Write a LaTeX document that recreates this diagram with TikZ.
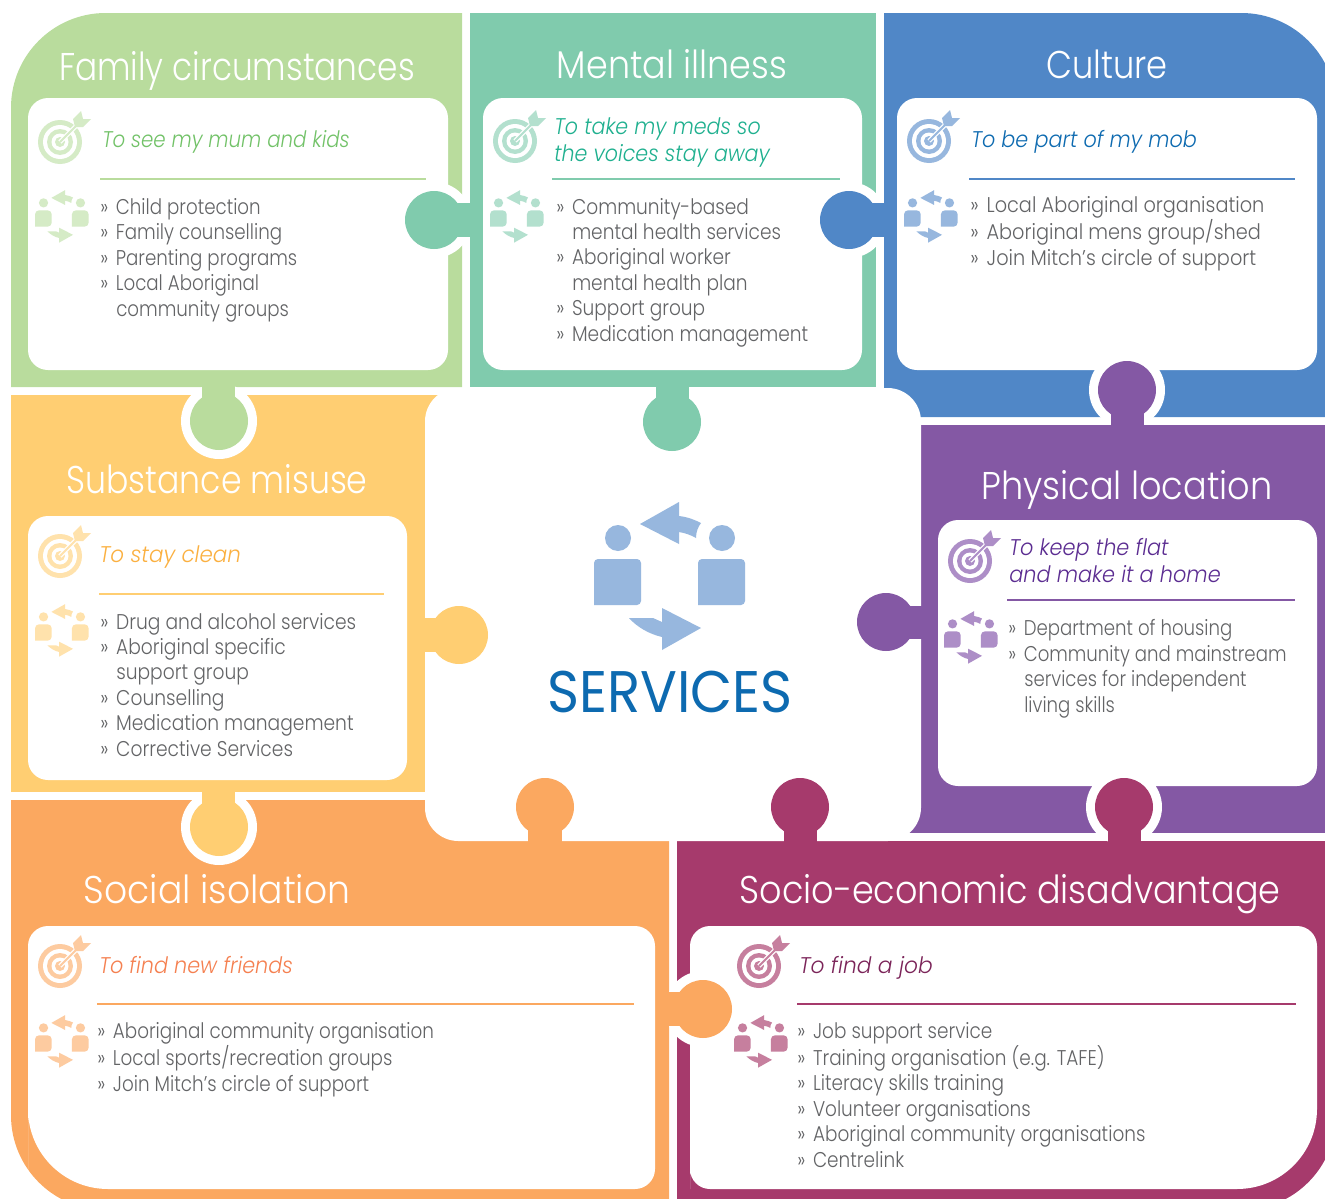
\documentclass[tikz,border=0pt]{standalone}
\usepackage{fontspec}
\setmainfont{Poppins}[UprightFont=* Light, ItalicFont=* Light Italic]
\newfontfamily\servicesfont{Poppins}[FakeStretch=.93]
\usepackage{xcolor}
\definecolor{leaf}{HTML}{B9DC9D}
\definecolor{sea}{HTML}{80CBAD}
\definecolor{sky}{HTML}{5087C7}
\definecolor{sun}{HTML}{FFCE72}
\definecolor{grape}{HTML}{8458A4}
\definecolor{peach}{HTML}{FBA860}
\definecolor{plum}{HTML}{A63A6C}
\definecolor{leaftint}{HTML}{D5EBC6}
\definecolor{seatint}{HTML}{B3E0CE}
\definecolor{skytint}{HTML}{97B7DE}
\definecolor{suntint}{HTML}{FFE2AC}
\definecolor{grapetint}{HTML}{AD8EC7}
\definecolor{peachtint}{HTML}{FDCBA0}
\definecolor{plumtint}{HTML}{C67F9E}
\definecolor{leafgoal}{HTML}{72C268}
\definecolor{seagoal}{HTML}{1FB08F}
\definecolor{skygoal}{HTML}{0D6AB0}
\definecolor{sungoal}{HTML}{FBB040}
\definecolor{grapegoal}{HTML}{5B2C91}
\definecolor{peachgoal}{HTML}{F58050}
\definecolor{plumgoal}{HTML}{7B2459}
\definecolor{listgray}{HTML}{636466}
\newcommand{\contline}{\hspace*{12pt}}
\newcommand{\listmark}{»\hspace{2pt} }
\tikzset{
  heading/.style={anchor=base, inner sep=0pt, white, font=\fontsize{29}{32}\selectfont\addfontfeatures{FakeStretch=#1}},
  goaltext/.style={anchor=base west, inner sep=0pt, align=left, font=\fontsize{17}{20.2}\selectfont\itshape\addfontfeatures{FakeStretch=#1}},
  listtext/.style={anchor=base west, inner sep=0pt, align=left, listgray, font=\fontsize{16}{19.05}\selectfont\addfontfeatures{FakeStretch=#1}},
  card/.style={fill=white, rounded corners=15pt},
  rule/.style={line width=1.6pt},
  pics/targeticon/.style={code={
    \fill [#1] (0,0) circle [radius=22];
    \fill [white] (0,0) circle [radius=17];
    \fill [#1] (0,0) circle [radius=13];
    \fill [white] (0,0) circle [radius=8.5];
    \fill [#1] (0,0) circle [radius=5];
    \draw [white, line width=3.4pt] (0,0) -- (18,-18);
    \draw [#1, line width=1.5pt] (0,0) -- (18,-18);
    \fill [#1] (13,-23) -- (21,-31) -- (23,-23) -- (31,-23) -- (23,-15) -- (15,-15) -- cycle;
  }},
  pics/cycleicon/.style={code={
    \fill [#1] (-52,-37) circle [radius=13];
    \fill [#1] (52,-37) circle [radius=13];
    \fill [#1, rounded corners=3pt] (-76,30) -- (-76,-16) -- (-29,-16) -- (-29,30) [sharp corners] -- cycle;
    \fill [#1, rounded corners=3pt] (28,30) -- (28,-16) -- (75,-16) -- (75,30) [sharp corners] -- cycle;
    \fill [#1] (-30,-51) -- (9,-73) -- (9,-59) .. controls (18,-58) and (25,-55) .. (31,-52) .. controls (28,-48) and (26,-43) .. (26,-37) .. controls (21,-40) and (15,-42) .. (9,-43) -- (9,-31) -- cycle;
    \fill [#1] (31,53) -- (-8,33) -- (-8,47) -- (-17,43) -- (-41,43) .. controls (-33,52) and (-21,59) .. (-8,62) -- (-8,75) -- cycle;
  }},
}

\begin{document}
\begin{tikzpicture}[x=0.75pt, y=-0.75pt]
        \useasboundingbox (0,0) rectangle (1325,1199);
        % panels
        \fill [leaf] (11,387) [rounded corners=71pt] -- (11,13) [sharp corners] -- (462,13) -- (462,387) -- cycle;
        \fill [sea] (470,13) rectangle (876,387);
        \fill [sky] (884,13) [rounded corners=71pt] -- (1336,13) [sharp corners] -- (1336,417) -- (884,417) -- cycle;
        \fill [sun] (11,395) rectangle (455,792);
        \fill [grape] (890,425) rectangle (1336,833);
        \fill [peach] (11,800) [rounded corners=71pt] -- (11,1210) [sharp corners] -- (669,1210) -- (669,800) -- cycle;
        \fill [plum] (677,841) -- (1336,841) [rounded corners=71pt] -- (1336,1210) [sharp corners] -- (677,1210) -- cycle;
        % middle piece
        \fill [white, rounded corners=25pt] (425,388) rectangle (921,841);
        % cards
        \fill [card] (28,98) rectangle (448,370);
        \fill [card] (483,98) rectangle (862,370);
        \fill [card] (897,98) rectangle (1317,370);
        \fill [card] (28,516) rectangle (407,780);
        \fill [card] (938,520) rectangle (1317,786);
        \fill [white] (28,1189) [rounded corners=15pt] -- (28,926) -- (655,926) -- (655,1189) [rounded corners=60pt] -- (28,1189) [sharp corners] -- cycle;
        \fill [white] (690,1189) [rounded corners=15pt] -- (690,926) -- (1317,926) [rounded corners=60pt] -- (1317,1189) [rounded corners=15pt] -- (690,1189) [sharp corners] -- cycle;
        % knobs with a white rim
        \fill [white] (219,421) circle [radius=38];
        \fill [leaf] (202,380) rectangle (235,410);
        \fill [leaf] (219,421) circle [radius=29];
        \fill [white] (434,220) circle [radius=38];
        \fill [sea] (445,203) rectangle (477,237);
        \fill [sea] (434,220) circle [radius=29];
        \fill [white] (849,220) circle [radius=38];
        \fill [sky] (860,203) rectangle (891,237);
        \fill [sky] (849,220) circle [radius=29];
        \fill [white] (1127,390) circle [radius=38];
        \fill [grape] (1111,400) rectangle (1144,432);
        \fill [grape] (1127,390) circle [radius=29];
        \fill [white] (219,827) circle [radius=38];
        \fill [sun] (202,785) rectangle (235,815);
        \fill [sun] (219,827) circle [radius=29];
        \fill [white] (1124,807) circle [radius=38];
        \fill [plum] (1108,820) rectangle (1141,848);
        \fill [plum] (1124,807) circle [radius=29];
        \fill [white] (703,1009) circle [radius=38];
        \fill [peach] (662,992) rectangle (690,1026);
        \fill [peach] (703,1009) circle [radius=29];
        % knobs into the middle piece
        \fill [sea] (656,387) rectangle (689,410);
        \fill [sea] (672,422) circle [radius=29];
        \fill [sun] (425,618) rectangle (445,652);
        \fill [sun] (459,635) circle [radius=29];
        \fill [grape] (900,606) rectangle (922,639);
        \fill [grape] (886,622) circle [radius=29];
        \fill [peach] (528,820) rectangle (562,842);
        \fill [peach] (545,807) circle [radius=29];
        \fill [plum] (784,820) rectangle (817,842);
        \fill [plum] (800,807) circle [radius=29];
        % rules
        \draw [rule, leaf] (100,179) -- (426,179);
        \draw [rule, sea] (552,179) -- (840,179);
        \draw [rule, sky] (969,179) -- (1295,179);
        \draw [rule, sun] (99,594) -- (384,594);
        \draw [rule, grape] (1007,600) -- (1295,600);
        \draw [rule, peach] (97,1004) -- (634,1004);
        \draw [rule, plum] (797,1004) -- (1296,1004);
        % icons
        \pic at (60,142) {targeticon=leaftint};
        \pic at (515,141) {targeticon=seatint};
        \pic at (929,141) {targeticon=skytint};
        \pic at (60,556) {targeticon=suntint};
        \pic at (970,561) {targeticon=grapetint};
        \pic at (60,966) {targeticon=peachtint};
        \pic at (759,966) {targeticon=plumtint};
        \pic [scale=0.355] at (62,216) {cycleicon=leaftint};
        \pic [scale=0.355] at (517,216) {cycleicon=seatint};
        \pic [scale=0.355] at (931,216) {cycleicon=skytint};
        \pic [scale=0.355] at (62,630) {cycleicon=suntint};
        \pic [scale=0.355] at (971,637) {cycleicon=grapetint};
        \pic [scale=0.355] at (62,1041) {cycleicon=peachtint};
        \pic [scale=0.355] at (761,1041) {cycleicon=plumtint};
        \pic at (670,575) {cycleicon=skytint};
        % headings
        \node (family) [heading=.847] at (237,80) {Family circumstances};
        \node (mental) [heading=.903] at (672,78) {Mental illness};
        \node (culture) [heading=.87] at (1107,78) {Culture};
        \node (substance) [heading=.857] at (217,493) {Substance misuse};
        \node (physical) [heading=.908] at (1127,499) {Physical location};
        \node (social) [heading=.934] at (217,903) {Social isolation};
        \node (socio) [heading=.905] at (1010,903) {Socio-economic disadvantage};
        \node (services) [anchor=base, inner sep=0pt, skygoal, font=\servicesfont\fontsize{44}{48}\selectfont] at (670,712) {SERVICES};
        % goals
        \node (familygoal) [goaltext=.873, leafgoal] at (102,147) {To see my mum and kids};
        \node (mentalgoal) [goaltext=.91, seagoal] at (554,161) {To take my meds so\\the voices stay away};
        \node (culturegoal) [goaltext=.915, skygoal] at (971,147) {To be part of my mob};
        \node (substancegoal) [goaltext=.946, sungoal] at (99,562) {To stay clean};
        \node (physicalgoal) [goaltext=.92, grapegoal] at (1009,582) {To keep the flat\\and make it a home};
        \node (socialgoal) [goaltext=.915, peachgoal] at (99,973) {To find new friends};
        \node (sociogoal) [goaltext=.96, plumgoal] at (799,973) {To find a job};
        % lists
        \node (familylist) [listtext=.855] at (100,316) {\listmark Child protection\\\listmark Family counselling\\\listmark Parenting programs\\\listmark Local Aboriginal\\\contline community groups};
        \node (mentallist) [listtext=.87] at (556,341) {\listmark Community-based\\\contline mental health services\\\listmark Aboriginal worker\\\contline mental health plan\\\listmark Support group\\\listmark Medication management};
        \node (culturelist) [listtext=.905] at (970,265) {\listmark Local Aboriginal organisation\\\listmark Aboriginal mens group/shed\\\listmark Join Mitch’s circle of support};
        \node (substancelist) [listtext=.875] at (100,756) {\listmark Drug and alcohol services\\\listmark Aboriginal specific\\\contline support group\\\listmark Counselling\\\listmark Medication management\\\listmark Corrective Services};
        \node (physicallist) [listtext=.85] at (1008,712) {\listmark Department of housing\\\listmark Community and mainstream\\\contline services for independent\\\contline living skills};
        \node (sociallist) [listtext=.86] at (97,1091) {\listmark Aboriginal community organisation\\\listmark Local sports/recreation groups\\\listmark Join Mitch’s circle of support};
        \node (sociolist) [listtext=.865] at (797,1167) {\listmark Job support service\\\listmark Training organisation (e.g. TAFE)\\\listmark Literacy skills training\\\listmark Volunteer organisations\\\listmark Aboriginal community organisations\\\listmark Centrelink};
    \end{tikzpicture}
\end{document}
